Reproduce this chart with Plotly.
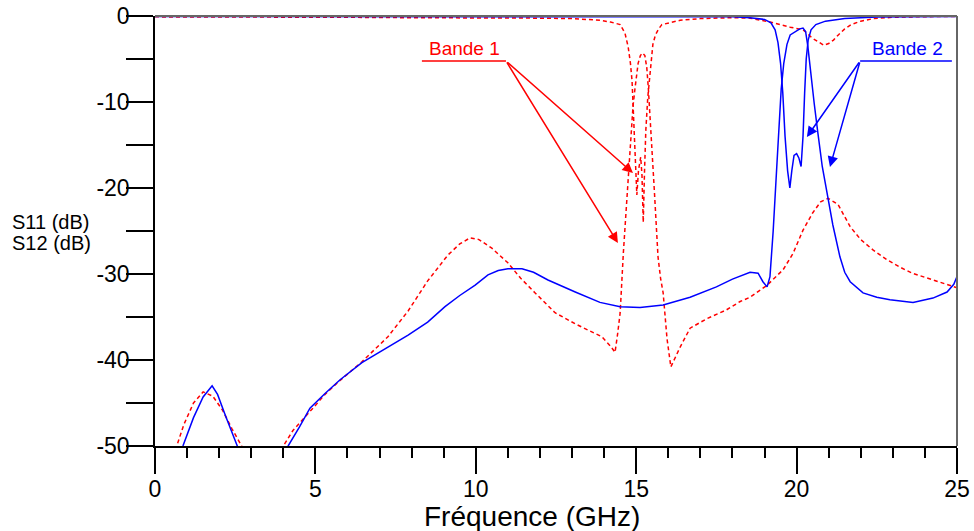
import plotly.graph_objects as go

# ---------------- data ----------------
# Band 1 (red, dashed): S11
f_b1_s11 = [0, 2, 4, 6, 8, 10, 12, 13, 13.87, 14.2, 14.5, 14.65, 14.75, 14.82, 14.87,
            14.91, 14.95, 14.99, 15.02, 15.07, 15.14, 15.18, 15.22, 15.26, 15.3, 15.36,
            15.42, 15.47, 15.52, 15.6, 15.7, 15.8, 16.0, 16.37, 17, 18, 18.55, 19.17,
            19.8, 20.2, 20.5, 20.7, 20.85, 21.0, 21.15, 21.3, 21.5, 21.7, 22.0, 22.4,
            23, 24, 25]
s11_b1 = [-0.1, -0.1, -0.15, -0.15, -0.2, -0.2, -0.25, -0.3, -0.5, -0.7, -1.0, -2.0, -3.6,
          -5.5, -7.5, -11, -14.5, -18, -20.8, -18, -16.4, -18.5, -24, -18, -13.3, -9.5,
          -7, -4.5, -3.3, -2.2, -1.5, -1.0, -0.8, -0.5, -0.3, -0.2, -0.25, -0.7,
          -1.3, -1.6, -2.6, -3.1, -3.4, -3.2, -2.8, -2.2, -1.5, -1.0, -0.6, -0.3,
          -0.15, -0.08, -0.05]

# Band 1 (red, dashed): S12
f_b1_s12 = [0.5, 0.68, 0.9, 1.2, 1.5, 1.8, 2.1, 2.4, 2.7, 2.9, 3.3, 3.8, 3.99, 4.3, 4.9,
            5.3, 5.7, 6.45, 7.26, 7.89, 8.5, 9.13, 9.5, 9.82, 10.1, 10.5, 11.0, 11.4,
            11.85, 12.47, 13.1, 13.5, 13.93, 14.2, 14.34, 14.42, 14.5, 14.6, 14.72,
            14.84, 14.9, 14.96, 15.06, 15.13, 15.2, 15.27, 15.33, 15.38, 15.46, 15.57,
            15.68, 15.76, 15.84, 15.96, 16.08, 16.2, 16.37, 16.68, 17.2, 17.8, 18.24,
            18.55, 19.08, 19.58, 19.89, 20.2, 20.5, 20.75, 20.98, 21.29, 21.67, 22.0,
            22.38, 22.8, 23.22, 23.6, 24.07, 24.5, 25]
s12_b1 = [-52, -50, -47.5, -45, -43.7, -44.2, -45.8, -48, -50, -51.8, -58, -51.2, -50,
          -48.2, -45.7, -44, -42.6, -40.2, -37.3, -34.3, -30.8, -27.8, -26.5, -25.8,
          -26.0, -27.0, -28.7, -30.5, -32.2, -34.5, -35.8, -36.5, -37.3, -38.4, -39.1,
          -37, -34.5, -27.5, -20.5, -13.3, -10.5, -8.5, -5.5, -4.6, -4.3, -4.6, -6,
          -8.5, -13.3, -20.6, -28, -30.5, -32.2, -37.5, -40.8, -39.8, -38.5, -36.3,
          -35.2, -34.2, -33.2, -32.7, -31.3, -29.5, -27.6, -24.9, -22.9, -21.6, -21.2,
          -21.9, -24.5, -26.0, -27.2, -28.3, -29.2, -29.9, -30.5, -31.0, -31.6]

# Band 2 (blue, solid): S11
f_b2_s11 = [0, 5, 10, 15, 17, 18, 18.55, 19.0, 19.2, 19.33, 19.42, 19.5, 19.57, 19.64,
            19.72, 19.79, 19.85, 19.92, 20.0, 20.07, 20.14, 20.2, 20.25, 20.3, 20.36,
            20.45, 20.6, 20.9, 21.5, 22.5, 23.5, 25]
s11_b2 = [-0.05, -0.05, -0.05, -0.05, -0.08, -0.1, -0.2, -0.4, -0.8, -1.6, -3.1, -5.5,
          -9, -14, -18, -20, -18, -16.2, -16, -16.5, -17.5, -14, -9, -5, -2.8, -1.6,
          -1.0, -0.6, -0.3, -0.12, -0.08, -0.05]

# Band 2 (blue, solid): S12
f_b2_s12 = [0.6, 0.87, 1.2, 1.5, 1.78, 1.95, 2.2, 2.55, 2.8, 3.4, 3.9, 4.15, 4.5, 4.83,
            5.3, 5.77, 6.45, 7.2, 7.89, 8.5, 9.04, 9.5, 9.98, 10.38, 10.7, 11.0, 11.44,
            11.8, 12.25, 13.1, 13.87, 14.5, 15.12, 15.84, 16.68, 17.5, 18.0, 18.55,
            18.8, 18.95, 19.08, 19.17, 19.27, 19.39, 19.45, 19.52, 19.6, 19.7, 19.8,
            19.95, 20.1, 20.2, 20.28, 20.35, 20.45, 20.55, 20.66, 20.8, 20.98, 21.13,
            21.35, 21.5, 21.67, 22.07, 22.5, 22.91, 23.63, 24.25, 24.69, 24.9, 25]
s12_b2 = [-52, -50, -46.7, -44.3, -43.0, -44, -46.5, -50, -52.3, -58, -51.2, -50, -47.8,
          -45.6, -43.9, -42.3, -40.3, -38.6, -37.1, -35.6, -33.8, -32.5, -31.3, -30.1,
          -29.6, -29.4, -29.4, -29.8, -30.7, -32.1, -33.3, -33.8, -33.9, -33.6, -32.7,
          -31.5, -30.6, -29.8, -29.9, -30.9, -31.5, -30.3, -25, -17, -12.5, -8.5, -5.5,
          -3.3, -2.2, -1.8, -1.5, -1.4, -1.8, -3.5, -7, -10.2, -13.5, -17.5, -21.2,
          -24.3, -28, -29.8, -30.9, -32.2, -32.7, -33.0, -33.3, -32.8, -32.1, -31.2,
          -30.3]

x_tick_vals = [0, 5, 10, 15, 20, 25]
x_tick_text = ["0", "5", "10", "15", "20", "25"]
y_tick_vals = [-50, -40, -30, -20, -10, 0]
y_tick_text = ["-50", "-40", "-30", "-20", "-10", "0"]

RED = "#ff0000"
BLUE = "#0000ff"
FONT = "Arial, Liberation Sans, sans-serif"

fig = go.Figure()
red_line = dict(color=RED, width=1.5, dash="4px,3px")
blue_line = dict(color=BLUE, width=1.5)
fig.add_trace(go.Scatter(x=f_b1_s11, y=s11_b1, mode="lines", line=red_line, name="S11 bande 1"))
fig.add_trace(go.Scatter(x=f_b1_s12, y=s12_b1, mode="lines", line=red_line, name="S12 bande 1"))
fig.add_trace(go.Scatter(x=f_b2_s12, y=s12_b2, mode="lines", line=blue_line, name="S12 bande 2"))
fig.add_trace(go.Scatter(x=f_b2_s11, y=s11_b2, mode="lines", line=blue_line, name="S11 bande 2"))

fig.update_layout(
    width=974, height=531,
    margin=dict(l=155, r=17, t=16, b=85, autoexpand=False),
    paper_bgcolor="white", plot_bgcolor="white",
    showlegend=False,
    font=dict(family=FONT, color="black"),
    xaxis=dict(range=[0, 25], tickvals=x_tick_vals, ticktext=x_tick_text,
               showgrid=False, zeroline=False, automargin=False,
               showline=True, linecolor="black", linewidth=1.5,
               ticks="outside", ticklen=26, tickwidth=1.5, tickcolor="black",
               tickfont=dict(size=23), ticklabeloverflow="allow",
               ticklabelstandoff=-4,
               minor=dict(dtick=1, ticks="outside", ticklen=10, tickwidth=1.5,
                          tickcolor="black", showgrid=False)),
    yaxis=dict(range=[-50, 0], tickvals=y_tick_vals, ticktext=y_tick_text,
               showgrid=False, zeroline=False, automargin=False,
               showline=True, linecolor="black", linewidth=1.5,
               ticks="outside", ticklen=27, tickwidth=1.5, tickcolor="black",
               tickfont=dict(size=23), ticklabeloverflow="allow",
               ticklabelstandoff=-8,
               minor=dict(dtick=5, ticks="outside", ticklen=27, tickwidth=1.5,
                          tickcolor="black", showgrid=False)),
)

# frame (top and right)
fig.add_shape(type="line", xref="paper", yref="paper", x0=0, y0=1, x1=1, y1=1,
              line=dict(color="#666666", width=2))
fig.add_shape(type="line", xref="paper", yref="paper", x0=1, y0=0, x1=1, y1=1,
              line=dict(color="#666666", width=2))

# Bande labels with underline and arrows
fig.add_shape(type="line", xref="x", yref="y", x0=8.32, y0=-5.23, x1=10.94, y1=-5.23,
              line=dict(color=RED, width=1.5))
fig.add_shape(type="line", xref="x", yref="y", x0=21.98, y0=-5.23, x1=24.84, y1=-5.23,
              line=dict(color=BLUE, width=1.5))
fig.add_annotation(x=9.65, y=-5.23, xref="x", yref="y", text="Bande 1", showarrow=False,
                   yanchor="bottom", font=dict(size=19, color=RED))
fig.add_annotation(x=23.45, y=-5.23, xref="x", yref="y", text="Bande 2", showarrow=False,
                   yanchor="bottom", font=dict(size=19, color=BLUE))
for (tx, ty) in [(14.9, -18.26), (14.43, -26.4)]:
    fig.add_annotation(x=tx, y=ty, ax=10.94, ay=-5.23, xref="x", yref="y", axref="x",
                       ayref="y", text="", showarrow=True, arrowhead=2, arrowsize=1.4,
                       arrowwidth=1.5, arrowcolor=RED)
for (tx, ty) in [(20.32, -14.07), (21.04, -17.56)]:
    fig.add_annotation(x=tx, y=ty, ax=21.98, ay=-5.23, xref="x", yref="y", axref="x",
                       ayref="y", text="", showarrow=True, arrowhead=2, arrowsize=1.4,
                       arrowwidth=1.5, arrowcolor=BLUE)

# axis titles
for (txt, yy) in [("S11 (dB)", 0.521), ("S12 (dB)", 0.472)]:
    fig.add_annotation(x=-0.181, y=yy, xref="paper", yref="paper", xanchor="left",
                       yanchor="middle", align="left", text=txt,
                       showarrow=False, font=dict(size=20))
fig.add_annotation(x=0.47, y=-0.165, xref="paper", yref="paper", xanchor="center",
                   yanchor="middle", text="Fréquence (GHz)", showarrow=False,
                   font=dict(size=28))

# remove the browser's default 8px page margin so the figure fills the window
fig.write_html("out.html", config={"displayModeBar": False},
               post_script="document.body.style.margin='0px';")
